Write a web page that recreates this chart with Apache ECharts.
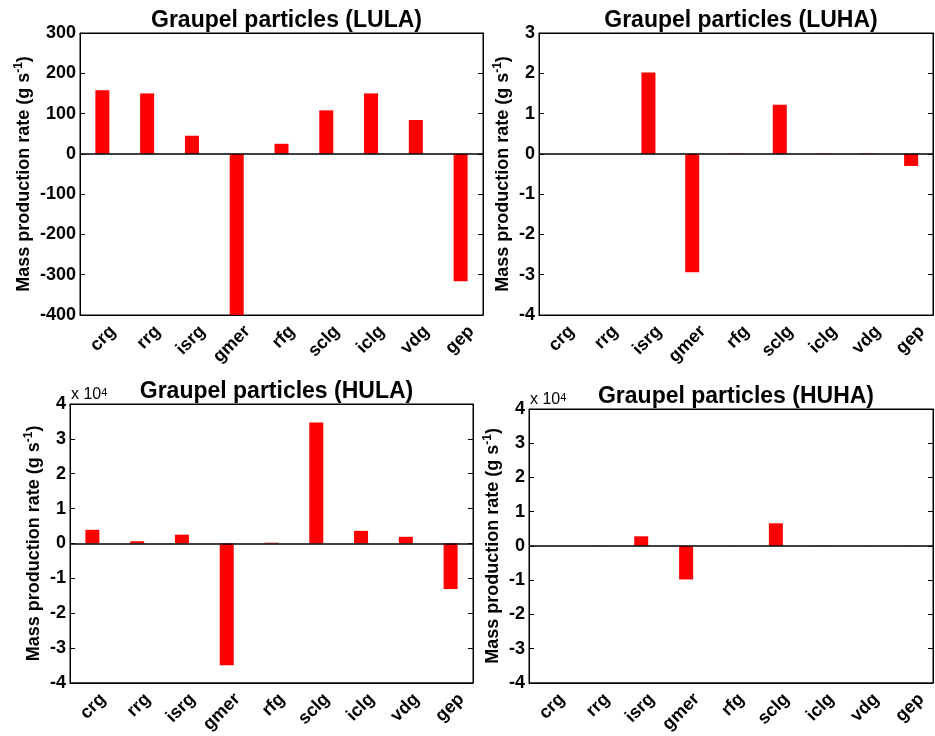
<!DOCTYPE html>
<html>
<head>
<meta charset="utf-8">
<script src="https://cdn.jsdelivr.net/npm/echarts@6/dist/echarts.min.js"></script>
<style>
    html, body { margin: 0; padding: 0; background: #fff; }
    #chart { width: 935px; height: 736px; }
</style>
</head>
<body>
<div id="chart"></div>
<script>
var categories = ['crg', 'rrg', 'isrg', 'gmer', 'rfg', 'sclg', 'iclg', 'vdg', 'gep'];

// g s^-1
var lula = [158, 150, 45, -400, 25, 108, 150, 84, -316];
var luha = [0, 0, 2.02, -2.94, 0.01, 1.22, 0.01, 0.01, -0.3];
var hula = [3900, 600, 2500, -35000, 200, 34700, 3600, 1900, -13100];
var huha = [20, 60, 2800, -9800, 30, 6600, 80, 30, -40];

var titles = ['Graupel particles (LULA)', 'Graupel particles (LUHA)',
    'Graupel particles (HULA)', 'Graupel particles (HUHA)'];

var yMin = [-400, -4, -40000, -40000];
var yMax = [300, 3, 40000, 40000];
var yStep = [100, 1, 10000, 10000];

var FONT = 'Liberation Sans, Arial, sans-serif';

// plot boxes: left, top, width, height, name gap
var boxes = [
    [80, 33, 403, 282, 45],
    [539, 33, 394, 282, 25],
    [70, 404, 403, 283, 25],
    [529, 409, 404, 282, 25]
];
var scaled = [false, false, true, true];
var seriesData = [lula, luha, hula, huha];

var grids = [], xAxes = [], yAxes = [], series = [], titleList = [], graphics = [];

function tickLabel(i) {
    return function (v) {
        return scaled[i] ? String(Math.round(v / 10000)) : String(v);
    };
}

for (var i = 0; i < 4; i++) {
    var b = boxes[i];
    grids.push({
        left: b[0], top: b[1], width: b[2], height: b[3],
        show: true, borderColor: '#000', borderWidth: 1, backgroundColor: '#fff'
    });
    titleList.push({
        text: titles[i],
        left: b[0] + b[2] / 2,
        top: b[1] - 29,
        textAlign: 'center',
        textStyle: { fontFamily: FONT, fontSize: 23, fontWeight: 'bold', color: '#000' }
    });
    xAxes.push({
        type: 'category', gridIndex: i, data: categories, position: 'bottom',
        axisLine: { onZero: false, lineStyle: { color: '#000' } },
        axisTick: { inside: true, alignWithLabel: true, length: 5, lineStyle: { color: '#000' } },
        axisLabel: {
            rotate: 45, interval: 0, margin: 3, color: '#000', verticalAlign: 'top',
            padding: [6, 0, 0, 0],
            fontFamily: FONT, fontSize: 18, fontWeight: 'bold'
        }
    });
    xAxes.push({
        type: 'category', gridIndex: i, data: categories, position: 'top',
        axisLine: { onZero: false, lineStyle: { color: '#000' } },
        axisTick: { inside: true, alignWithLabel: true, length: 5, lineStyle: { color: '#000' } },
        axisLabel: { show: false }
    });
    yAxes.push({
        type: 'value', gridIndex: i, position: 'left',
        min: yMin[i], max: yMax[i], interval: yStep[i],
        name: 'Mass production rate (g s{sup|-1})',
        nameLocation: 'middle', nameRotate: 90, nameGap: b[4],
        nameTextStyle: {
            fontFamily: FONT, fontSize: 18, fontWeight: 'bold', color: '#000', lineHeight: 22,
            rich: { sup: { fontFamily: FONT, fontSize: 12, fontWeight: 'bold', color: '#000', verticalAlign: 'top', lineHeight: 12 } }
        },
        axisLine: { show: true, lineStyle: { color: '#000' } },
        axisTick: { show: true, inside: true, length: 5, lineStyle: { color: '#000' } },
        splitLine: { show: false },
        axisLabel: {
            color: '#000', fontFamily: FONT, fontSize: 18, fontWeight: 'bold', margin: 4,
            formatter: tickLabel(i)
        }
    });
    yAxes.push({
        type: 'value', gridIndex: i, position: 'right',
        min: yMin[i], max: yMax[i], interval: yStep[i],
        axisLine: { show: true, lineStyle: { color: '#000' } },
        axisTick: { show: true, inside: true, length: 5, lineStyle: { color: '#000' } },
        splitLine: { show: false },
        axisLabel: { show: false }
    });
    series.push({
        type: 'bar', xAxisIndex: 2 * i, yAxisIndex: 2 * i,
        data: seriesData[i], barWidth: 14,
        itemStyle: { color: '#ff0000' },
        animation: false,
        markLine: {
            silent: true, symbol: 'none', animation: false,
            label: { show: false },
            lineStyle: { color: '#000', type: 'solid', width: 1.5 },
            data: [{ yAxis: 0 }]
        }
    });
    if (scaled[i]) {
        graphics.push({
            type: 'text', left: b[0] + 1, top: b[1] - 17,
            style: {
                text: 'x 10{sup|4}',
                font: '16px ' + FONT, fill: '#000',
                rich: { sup: { fontSize: 11, fontFamily: FONT, fill: '#000', verticalAlign: 'top', lineHeight: 8 } }
            }
        });
    }
}

var myChart = echarts.init(document.getElementById('chart'));
myChart.setOption({
    animation: false,
    backgroundColor: '#fff',
    title: titleList,
    grid: grids,
    xAxis: xAxes,
    yAxis: yAxes,
    series: series,
    graphic: graphics
});
window.addEventListener('resize', function () {
    myChart.resize();
});
</script>
</body>
</html>
